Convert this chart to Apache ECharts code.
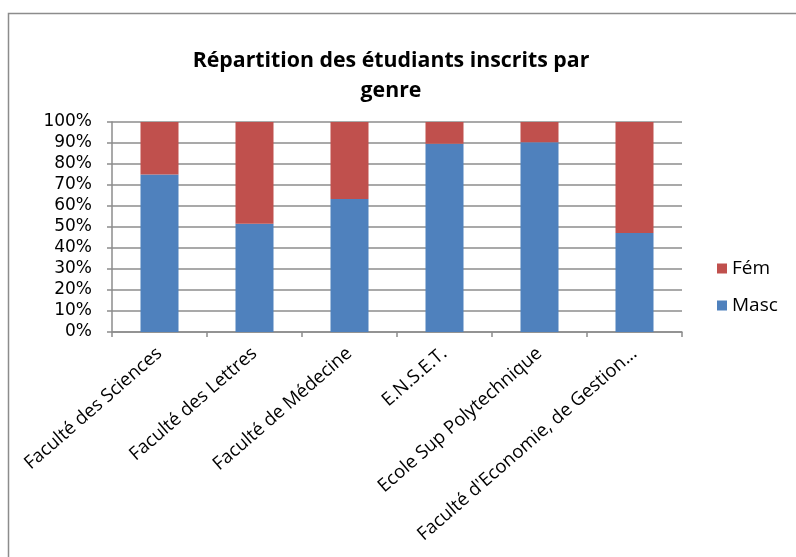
<!DOCTYPE html>
<html>
<head>
<meta charset="utf-8">
<script src="https://cdn.jsdelivr.net/npm/echarts@6/dist/echarts.min.js"></script>
<style>
  html, body { margin: 0; padding: 0; background: #fff; }
  #chart { width: 796px; height: 557px; }
</style>
</head>
<body>
<div id="chart"></div>
<script>
const categories = [
  "Faculté des Sciences",
  "Faculté des Lettres",
  "Faculté de Médecine",
  "E.N.S.E.T.",
  "Ecole Sup Polytechnique",
  "Faculté d'Economie, de Gestion..."
];
// part des hommes (%)
const masc = [75, 51.5, 63.3, 89.6, 90.3, 47.2];
// part des femmes = complément à 100%
const fem = [25, 48.5, 36.7, 10.4, 9.7, 52.8];
const yTicks = [0, 10, 20, 30, 40, 50, 60, 70, 80, 90, 100];

const chart = echarts.init(document.getElementById("chart"));

const option = {
  animation: false,
  backgroundColor: "#fff",
  color: ["#4F81BD", "#C0504D"],
  title: {
    text: "Répartition des étudiants inscrits par\ngenre",
    left: 386,
    top: 41,
    textAlign: "center",
    textStyle: {
      fontFamily: "Open Sans",
      fontWeight: "bold",
      fontSize: 21.3,
      lineHeight: 30,
      color: "#000"
    }
  },
  graphic: [
    {
      type: "rect",
      shape: { x: 8.5, y: 13.5, width: 900, height: 700 },
      style: { fill: "none", stroke: "#8c8c8c", lineWidth: 1.5 },
      silent: true
    }
  ],
  legend: {
    orient: "vertical",
    left: 712,
    top: 254,
    itemGap: 18,
    itemWidth: 10,
    itemHeight: 10,
    icon: "rect",
    data: ["Fém", "Masc"],
    textStyle: { fontFamily: "Open Sans", fontSize: 19, color: "#000" }
  },
  grid: {
    left: 112,
    right: 114,
    top: 122,
    bottom: 225
  },
  xAxis: {
    type: "category",
    data: categories,
    axisLine: { lineStyle: { color: "#8c8c8c", width: 1.5 } },
    axisTick: { show: true, length: 5, lineStyle: { color: "#8c8c8c", width: 1.5 } },
    axisLabel: {
      rotate: 41,
      interval: 0,
      margin: 19,
      fontFamily: "Open Sans",
      fontSize: 18.5,
      color: "#000"
    }
  },
  yAxis: {
    type: "value",
    min: 0,
    max: 100,
    interval: 10,
    axisLine: { show: true, lineStyle: { color: "#8c8c8c", width: 1.5 } },
    axisTick: { show: true, length: 5, lineStyle: { color: "#8c8c8c", width: 1.5 } },
    splitLine: { lineStyle: { color: "#8c8c8c", width: 1.5 } },
    axisLabel: {
      margin: 20,
      fontFamily: "DejaVu Sans",
      fontSize: 17,
      color: "#000",
      formatter: function (v) { return yTicks.indexOf(v) >= 0 ? v + "%" : ""; }
    }
  },
  series: [
    {
      name: "Masc",
      type: "bar",
      stack: "total",
      barWidth: "40%",
      data: masc
    },
    {
      name: "Fém",
      type: "bar",
      stack: "total",
      barWidth: "40%",
      data: fem
    }
  ]
};

chart.setOption(option);
window.addEventListener("resize", function () {
  chart.resize();
});
</script>
</body>
</html>
